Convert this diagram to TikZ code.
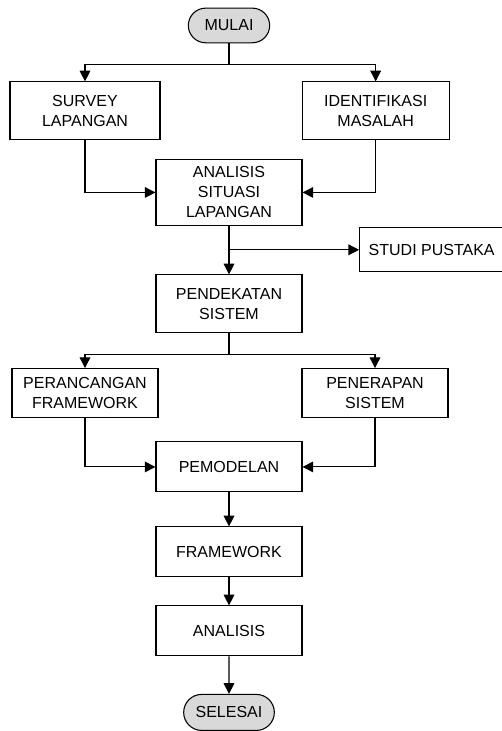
\documentclass[tikz,border=0pt]{standalone}
\usepackage{fontspec}
\setmainfont{Liberation Sans}
\usetikzlibrary{arrows.meta,shapes.misc,positioning}

\tikzset{
  proses/.style = {draw, rectangle, align=center, minimum width=109.5pt, minimum height=37.5pt, inner sep=2pt},
  terminal/.style = {draw, rounded rectangle, fill=gray!30, minimum width=65pt, minimum height=26pt, inner sep=2pt},
  panah/.style = {-{Triangle[length=8pt,width=8pt]}},
}

\begin{document}
\begin{tikzpicture}[font=\fontsize{12}{15}\selectfont, line width=0.8pt]
		\useasboundingbox (0,0) rectangle (375.75pt,-548.25pt);
		\node (mulai) [terminal] at (171.75pt,-19.1pt) {MULAI};
		\node (survey) [proses, minimum width=112.5pt, minimum height=43.5pt] [node distance = 64.1pt] [below of = mulai, xshift = -108pt] {SURVEY\\LAPANGAN};
		\node (ident) [proses, minimum width=110.25pt, minimum height=43.5pt] [node distance = 64.1pt] [below of = mulai, xshift = 110pt] {IDENTIFIKASI\\MASALAH};
		\node (sit) [proses, minimum height=50pt] [node distance = 125.25pt] [below of = mulai] {ANALISIS\\SITUASI\\LAPANGAN};
		\node (studi) [proses, minimum width=108pt, minimum height=33pt] [node distance = 43pt] [below of = sit, xshift = 152pt] {STUDI PUSTAKA};
		\node (pend) [proses, minimum height=43.5pt] [node distance = 83.6pt] [below of = sit] {PENDEKATAN\\SISTEM};
		\node (peran) [proses, minimum height=37pt] [node distance = 67pt] [below of = pend, xshift = -108pt] {PERANCANGAN\\FRAMEWORK};
		\node (pener) [proses, minimum height=37pt] [node distance = 67pt] [below of = pend, xshift = 109.5pt] {PENERAPAN\\SISTEM};
		\node (pemod) [proses] [node distance = 122.25pt] [below of = pend] {PEMODELAN};
		\node (frame) [proses] [node distance = 63.75pt] [below of = pemod] {FRAMEWORK};
		\node (anal) [proses] [node distance = 59.25pt] [below of = frame] {ANALISIS};
		\node (selesai) [terminal, minimum width=72pt, minimum height=27pt] [node distance = 61.1pt] [below of = anal] {SELESAI};
		\draw (mulai.south) -- ++(0,-15.75pt) coordinate (cabang1);
		\draw [panah] (cabang1) -| (survey);
		\draw [panah] (cabang1) -| (ident);
		\draw [panah] (survey) |- (sit);
		\draw [panah] (ident) |- (sit);
		\draw [panah] (sit) -- (pend);
		\draw [panah] (sit.south |- studi) -- (studi);
		\draw (pend.south) -- ++(0,-15.75pt) coordinate (cabang2);
		\draw [panah] (cabang2) -| (peran);
		\draw [panah] (cabang2) -| (pener);
		\draw [panah] (peran) |- (pemod);
		\draw [panah] (pener) |- (pemod);
		\draw [panah] (pemod) -- (frame);
		\draw [panah] (frame) -- (anal);
		\draw [panah] (anal) -- (selesai);
\end{tikzpicture}
\end{document}
